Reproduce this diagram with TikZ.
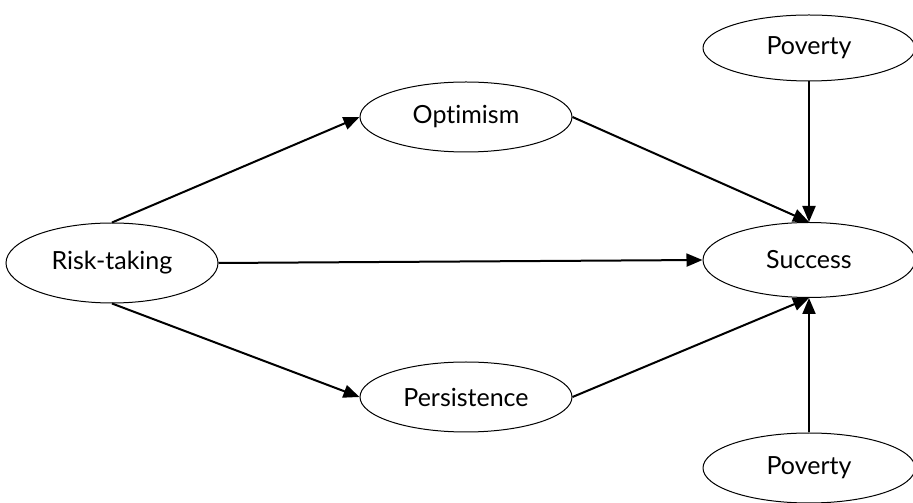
\documentclass[tikz,border=0pt]{standalone}
\usepackage{fontspec}
\setmainfont{Lato}[Ligatures=NoCommon]
\usetikzlibrary{shapes.geometric,arrows.meta}

\begin{document}
\begin{tikzpicture}[x=1pt,y=1pt,
   var/.style={ellipse,draw,line width=1pt,minimum width=212pt,minimum height=70pt,inner sep=0pt,font=\fontsize{25}{30}\selectfont},
   link/.style={-{Triangle[length=16pt,width=13pt]},line width=2pt}]
   \useasboundingbox (0,0) rectangle (913,503);
   \node[var,minimum height=80pt] (r) at (112,240) {Risk-taking};
   \node[var] (o) at (466,386) {Optimism};
   \node[var] (p) at (466,106) {Persistence};
   \node[var,minimum height=75pt] (s) at (809,243) {Success};
   \node[var,minimum height=66pt] (pv1) at (809,455) {Poverty};
   \node[var] (pv2) at (809,35) {Poverty};
   \draw[link] (r.north) -- (o.west);
   \draw[link] (r.east) -- (s.west);
   \draw[link] (r.south) -- (p.west);
   \draw[link] (o.east) -- (s.north);
   \draw[link] (p.east) -- (s.south);
   \draw[link] (pv1) -- (s);
   \draw[link] (pv2) -- (s);
\end{tikzpicture}
\end{document}
